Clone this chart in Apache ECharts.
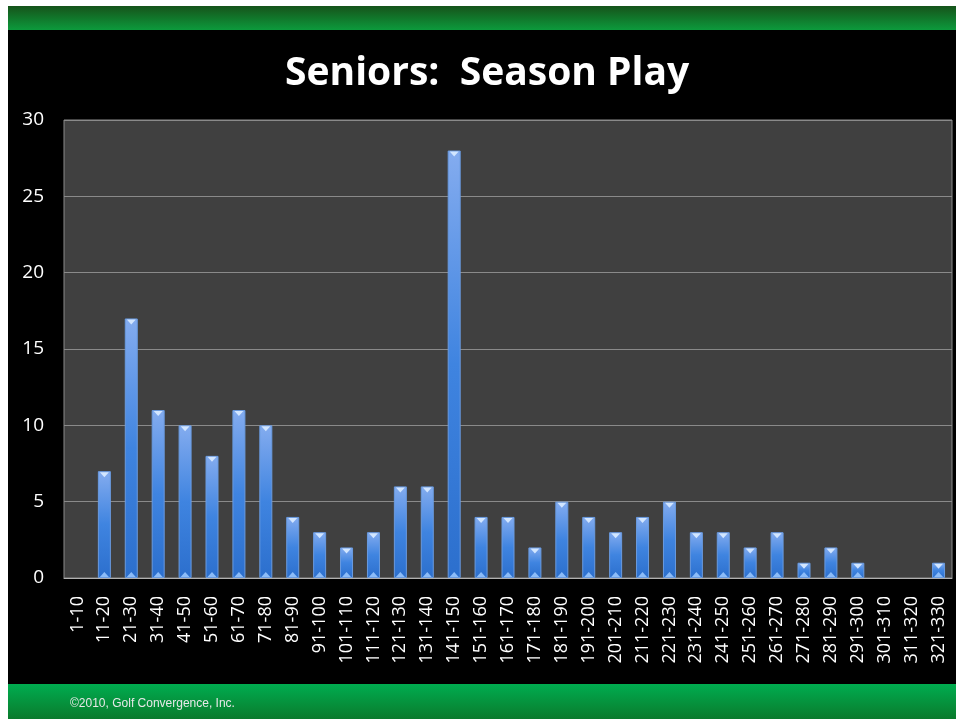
<!DOCTYPE html>
<html>
<head>
<meta charset="utf-8">
<script src="https://cdn.jsdelivr.net/npm/echarts@6/dist/echarts.min.js"></script>
<style>
  html, body { margin: 0; padding: 0; background: #ffffff; }
  #chart { width: 956px; height: 719px; }
</style>
</head>
<body>
<div id="chart"></div>
<script>
// Distance bands (yards) and number of plays in each band
const categories = [
  '1-10', '11-20', '21-30', '31-40', '41-50', '51-60', '61-70', '71-80', '81-90', '91-100',
  '101-110', '111-120', '121-130', '131-140', '141-150', '151-160', '161-170', '171-180',
  '181-190', '191-200', '201-210', '211-220', '221-230', '231-240', '241-250', '251-260',
  '261-270', '271-280', '281-290', '291-300', '301-310', '311-320', '321-330'
];
const plays = [
  0, 7, 17, 11, 10, 8, 11, 10, 4, 3,
  2, 3, 6, 6, 28, 4, 4, 2,
  5, 4, 3, 4, 5, 3, 3, 2,
  3, 1, 2, 1, 0, 0, 1
];
const yTicks = { min: 0, max: 30, step: 5 };
const titleText = 'Seniors:  Season Play';
const footerText = '\u00A92010, Golf Convergence, Inc.';

// Empty bands draw nothing at all (no outline, no bevel markers)
const barValues = plays.map(v => (v > 0 ? v : '-'));

const chart = echarts.init(document.getElementById('chart'), null, { renderer: 'canvas' });

const option = {
  backgroundColor: '#ffffff',
  animation: false,
  graphic: [
    // slide body
    { type: 'rect', z: -10, shape: { x: 8, y: 6, width: 948, height: 713 }, style: { fill: '#000000' } },
    // header band
    {
      type: 'rect', z: -9, shape: { x: 8, y: 6, width: 948, height: 24 },
      style: {
        fill: new echarts.graphic.LinearGradient(0, 0, 0, 1, [
          { offset: 0, color: '#16531a' },
          { offset: 1, color: '#0c9a3c' }
        ])
      }
    },
    // footer band
    {
      type: 'rect', z: -9, shape: { x: 8, y: 684, width: 948, height: 35 },
      style: {
        fill: new echarts.graphic.LinearGradient(0, 0, 0, 1, [
          { offset: 0, color: '#00ad50' },
          { offset: 1, color: '#0a7a2c' }
        ])
      }
    },
    {
      type: 'text', left: 70, top: 698, z: 10,
      style: { text: footerText, fill: '#e8e8e8', font: '12px "Liberation Sans", Arial, sans-serif' }
    }
  ],
  title: {
    text: titleText,
    left: 280,
    top: 49,
    textStyle: {
      color: '#ffffff',
      fontSize: 39,
      fontWeight: 'bold',
      fontFamily: '"Open Sans", sans-serif'
    }
  },
  grid: {
    left: 64, right: 4, top: 120, bottom: 141,
    show: true,
    backgroundColor: '#404040',
    borderColor: '#8a8a8a',
    borderWidth: 1
  },
  xAxis: {
    type: 'category',
    data: categories,
    axisTick: { show: false },
    axisLine: { show: true, lineStyle: { color: '#b0b0b0', width: 1 } },
    axisLabel: {
      color: '#ffffff',
      rotate: 90,
      interval: 0,
      margin: 18,
      fontSize: 18,
      fontFamily: '"Open Sans", sans-serif'
    }
  },
  yAxis: {
    type: 'value',
    min: yTicks.min,
    max: yTicks.max,
    interval: yTicks.step,
    axisLine: { show: false },
    axisTick: { show: false },
    splitLine: { lineStyle: { color: '#8a8a8a', width: 1 } },
    axisLabel: {
      color: '#ffffff',
      margin: 20,
      fontSize: 19,
      fontFamily: '"Open Sans", sans-serif'
    }
  },
  series: [
    {
      type: 'bar',
      data: barValues,
      barWidth: 13,
      itemStyle: {
        color: new echarts.graphic.LinearGradient(0, 0, 0, 1, [
          { offset: 0, color: '#84acef' },
          { offset: 0.5, color: '#3f84e0' },
          { offset: 1, color: '#2c6fcd' }
        ]),
        borderColor: '#6a9be0',
        borderWidth: 1
      },
      z: 2
    },
    {
      type: 'pictorialBar',
      data: barValues,
      symbol: 'triangle',
      symbolRotate: 180,
      symbolPosition: 'end',
      symbolSize: [9, 5],
      symbolOffset: [0, 1],
      itemStyle: { color: '#d2e6ff' },
      z: 3,
      silent: true
    },
    {
      type: 'pictorialBar',
      data: barValues,
      symbol: 'triangle',
      symbolPosition: 'start',
      symbolSize: [9, 5],
      symbolOffset: [0, -1],
      itemStyle: { color: '#8cbcf8' },
      z: 3,
      silent: true
    }
  ]
};

chart.setOption(option);
</script>
</body>
</html>
